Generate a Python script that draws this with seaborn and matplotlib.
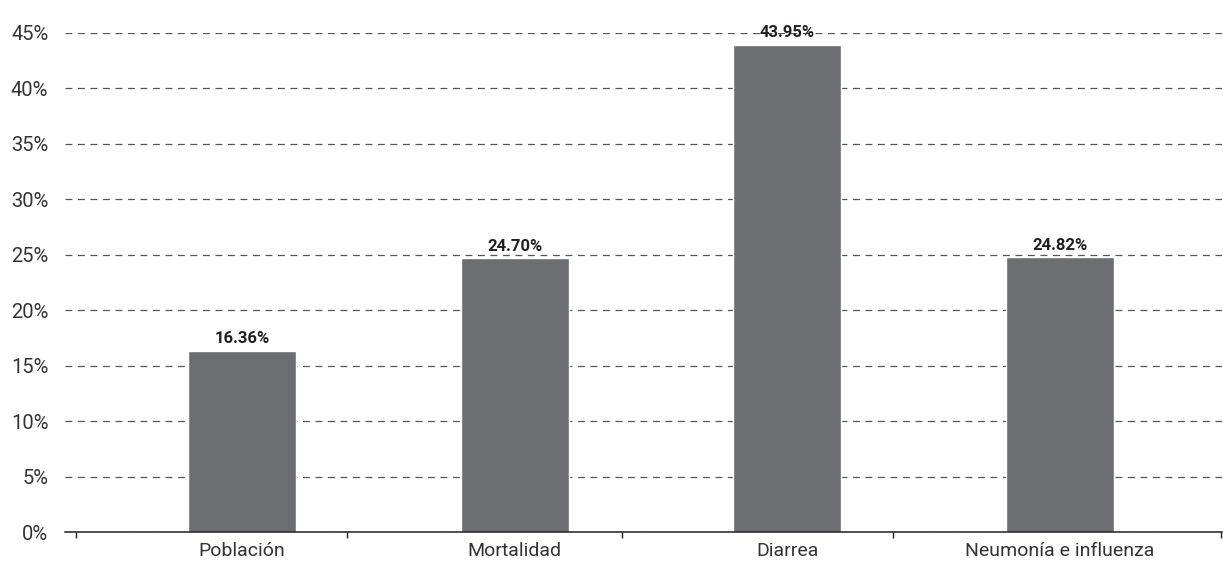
import numpy as np
import pandas as pd
import matplotlib
matplotlib.use("Agg")
import matplotlib.pyplot as plt
import seaborn as sns
from matplotlib.ticker import FixedLocator, PercentFormatter

# data
categorias = ['Población', 'Mortalidad', 'Diarrea', 'Neumonía e influenza']
porcentajes = [16.36, 24.70, 43.95, 24.82]
etiquetas = ['16.36%', '24.70%', '43.95%', '24.82%']

df = pd.DataFrame({'categoria': categorias, 'valor': porcentajes})

sns.set_style('white')
plt.rcParams['font.family'] = ['Roboto', 'DejaVu Sans']

bar_color = '#6d6e71'
text_color = '#333333'

fig = plt.figure(figsize=(12.23, 5.63), dpi=100)
ax = fig.add_axes([65 / 1223, 1 - 532 / 563, (1222 - 65) / 1223, (532 - 33) / 563])

sns.barplot(data=df, x='categoria', y='valor', color=bar_color, width=0.396,
            saturation=1, ax=ax, zorder=3)

# value labels above bars
for i, (v, lab) in enumerate(zip(porcentajes, etiquetas)):
    ax.annotate(lab, (i, v), xytext=(0, 3), textcoords='offset points',
                ha='center', va='bottom', fontsize=12, fontweight='bold',
                color='#231f20')

ax.set_ylim(0, 45)
ax.set_xlim(-0.650, 3.596)
ax.set_yticks(np.arange(0, 46, 5))
ax.yaxis.set_major_formatter(PercentFormatter(decimals=0))

ax.yaxis.grid(True, color='#555555', linewidth=0.9, dashes=(5.5, 4.5), zorder=0)
ax.xaxis.grid(False)
ax.set_axisbelow(True)

for s in ['top', 'right', 'left']:
    ax.spines[s].set_visible(False)
ax.spines['bottom'].set_color('#231f20')
ax.spines['bottom'].set_linewidth(1.1)
ax.spines['bottom'].set_zorder(4)

ax.tick_params(axis='y', length=0, pad=12, labelsize=14.5, labelcolor=text_color)
ax.tick_params(axis='x', which='major', length=0, pad=7, labelsize=14,
               labelcolor=text_color)
# small tick marks between categories
ax.xaxis.set_minor_locator(FixedLocator([-0.61, 0.385, 1.394, 2.389, 3.594]))
ax.tick_params(axis='x', which='minor', bottom=True, length=4.3, width=1,
               color='#231f20', direction='out')

ax.set_xlabel('')
ax.set_ylabel('')

fig.savefig('out.png', dpi=100)
